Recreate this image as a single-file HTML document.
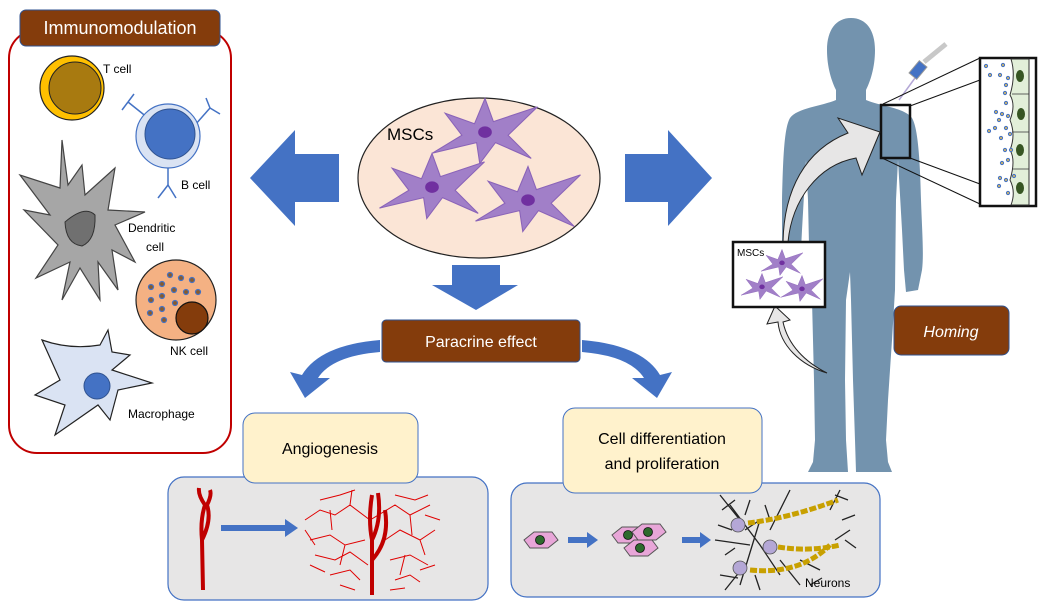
<!DOCTYPE html>
<html><head><meta charset="utf-8"><style>
html,body{margin:0;padding:0;background:#fff;}
svg{display:block;font-family:"Liberation Sans",sans-serif;}
</style></head><body>
<svg width="1042" height="604" viewBox="0 0 1042 604" xmlns="http://www.w3.org/2000/svg">
<defs>
<g id="msc">
<path d="M-50,22 L-22,5 L-38,-16 L-10,-6 L0,-30 L8,-8 L50,-22 L22,5 L44,27 L10,12 L-5,32 L-8,12 Z" fill="#a17fc8" stroke="#8a63b8" stroke-width="1"/>
<ellipse cx="0" cy="2" rx="6.5" ry="5.5" fill="#7030a0"/>
</g>
<g id="pcell"><path d="M-16,0 L-6,-8 L12,-8 L18,0 L8,8 L-10,8 Z" fill="#e8a6d8" stroke="#555" stroke-width="1"/><circle cx="0" cy="0" r="4.5" fill="#2d6a2d" stroke="#111" stroke-width="0.8"/></g>
</defs>

<!-- Human silhouette -->
<path fill="#7393ae" d="M851,18 C866,18 875,30 875,50 C875,68 870,82 866,90 L866,100 C880,106 905,108 912,118 C918,128 920,160 921,200 C922,230 924,255 922,270 L918,290 L906,292 L904,270 L902,230 L898,160 L896,200 L895,290 L892,340 L888,400 L886,440 L888,462 L892,472 L856,472 L855,440 L853,380 L851,300 L850,272 L846,300 L845,380 L846,440 L848,472 L808,472 L813,462 L815,440 L814,380 L812,300 L810,290 L808,200 L806,160 L802,230 L800,270 L796,292 L785,290 L782,270 L782,200 C783,160 784,128 790,118 C797,108 822,106 836,100 L836,90 C832,82 827,68 827,50 C827,30 836,18 851,18Z"/>

<!-- Immunomodulation panel -->
<rect x="9" y="30" width="222" height="423" rx="28" fill="#fff" stroke="#c00000" stroke-width="2"/>
<rect x="20" y="10" width="200" height="36" rx="6" fill="#843c0c" stroke="#2f528f" stroke-width="1"/>
<text x="120" y="34" font-size="18" fill="#fff" text-anchor="middle">Immunomodulation</text>

<circle cx="72" cy="88" r="32" fill="#ffc000" stroke="#222" stroke-width="1.2"/>
<circle cx="75" cy="88" r="26" fill="#a87a10" stroke="#222" stroke-width="1"/>
<text x="103" y="73" font-size="12">T cell</text>

<g stroke="#4472c4" stroke-width="1.5" fill="none">
<line x1="148" y1="118" x2="128" y2="102"/><line x1="128" y1="102" x2="122" y2="110"/><line x1="128" y1="102" x2="134" y2="94"/>
<line x1="195" y1="125" x2="210" y2="108"/><line x1="210" y1="108" x2="220" y2="114"/><line x1="210" y1="108" x2="206" y2="98"/>
<line x1="168" y1="165" x2="168" y2="185"/><line x1="168" y1="185" x2="158" y2="198"/><line x1="168" y1="185" x2="176" y2="198"/>
</g>
<circle cx="168" cy="136" r="32" fill="#dae3f3" stroke="#4472c4" stroke-width="1.2"/>
<circle cx="170" cy="134" r="25" fill="#4472c4" stroke="#2f528f" stroke-width="1"/>
<text x="181" y="189" font-size="12">B cell</text>

<path d="M62,140 L68,185 L82,165 L85,195 L115,168 L108,210 L145,212 L115,225 L135,262 L112,250 L118,290 L98,262 L100,300 L80,268 L62,300 L70,262 L36,278 L58,245 L24,210 L50,215 L20,175 L60,188 Z" fill="#a6a6a6" stroke="#444" stroke-width="1.2"/>
<path d="M65,222 Q85,205 95,215 Q96,240 82,246 Q66,244 65,222Z" fill="#707070" stroke="#333"/>
<text x="128" y="232" font-size="12">Dendritic</text>
<text x="146" y="251" font-size="12">cell</text>

<circle cx="176" cy="300" r="40" fill="#f4b183" stroke="#222" stroke-width="1.2"/>
<g fill="#8a5a2a" stroke="#4472c4" stroke-width="1.2">
<circle cx="170" cy="275" r="2.5"/><circle cx="181" cy="278" r="2.5"/><circle cx="192" cy="280" r="2.5"/><circle cx="151" cy="287" r="2.5"/><circle cx="162" cy="284" r="2.5"/><circle cx="174" cy="290" r="2.5"/><circle cx="186" cy="292" r="2.5"/><circle cx="198" cy="292" r="2.5"/><circle cx="151" cy="300" r="2.5"/><circle cx="162" cy="296" r="2.5"/><circle cx="175" cy="303" r="2.5"/><circle cx="162" cy="309" r="2.5"/><circle cx="150" cy="313" r="2.5"/><circle cx="164" cy="320" r="2.5"/>
</g>
<circle cx="192" cy="318" r="16" fill="#843c0c" stroke="#111" stroke-width="1.2"/>
<text x="170" y="355" font-size="12">NK cell</text>

<path d="M42,340 Q70,350 100,345 L108,330 L112,352 L130,355 L112,370 L152,383 L118,390 L110,420 L98,405 L55,435 L65,405 L35,395 L60,380 Z" fill="#dae3f3" stroke="#222" stroke-width="1.2"/>
<circle cx="97" cy="386" r="13" fill="#4472c4" stroke="#2f528f"/>
<text x="128" y="418" font-size="12">Macrophage</text>

<!-- arrows -->
<polygon points="250,178 295,130 295,154 339,154 339,202 295,202 295,226" fill="#4472c4"/>
<polygon points="712,178 668,130 668,154 625,154 625,202 668,202 668,226" fill="#4472c4"/>
<polygon points="452,265 500,265 500,285 518,285 476,310 432,285 452,285" fill="#4472c4"/>

<!-- MSCs ellipse -->
<ellipse cx="479" cy="178" rx="121" ry="80" fill="#fbe5d6" stroke="#222" stroke-width="1.2"/>
<text x="387" y="140" font-size="17">MSCs</text>
<use href="#msc" transform="translate(485,130) scale(1.05)"/>
<use href="#msc" transform="translate(432,185) scale(1.05)"/>
<use href="#msc" transform="translate(528,198) scale(1.05)"/>

<!-- Paracrine -->
<rect x="382" y="320" width="198" height="42" rx="4" fill="#843c0c" stroke="#2f528f"/>
<text x="481" y="347" font-size="16" fill="#fff" text-anchor="middle">Paracrine effect</text>
<path d="M380,340 Q320,345 302,375 L290,372 L305,398 L330,378 L318,378 Q332,356 380,352Z" fill="#4472c4"/>
<path d="M582,340 Q642,345 660,375 L672,372 L657,398 L632,378 L644,378 Q630,356 582,352Z" fill="#4472c4"/>

<!-- Angiogenesis -->
<rect x="168" y="477" width="320" height="123" rx="16" fill="#e7e6e6" stroke="#4472c4" stroke-width="1.2"/>
<rect x="243" y="413" width="175" height="70" rx="12" fill="#fff2cc" stroke="#4472c4"/>
<text x="330" y="454" font-size="16" text-anchor="middle">Angiogenesis</text>
<g stroke="#e00000" stroke-width="1" fill="none">
<path d="M305,520 L320,510 L335,515 L350,505 L370,520 L395,505 L410,515 L430,505 M310,540 L330,535 L345,545 L365,540 M385,540 L400,530 L420,540 L435,530 M315,555 L335,560 L350,552 L368,565 M390,560 L410,555 L428,565 M320,500 L340,495 L355,490 M395,495 L415,500 L428,495 M330,575 L350,570 L360,580 M395,580 L410,575 L420,582 M330,510 L332,530 M410,515 L412,535 M345,545 L340,565 M405,555 L400,575 M350,505 L352,490 M420,540 L425,555 M305,530 L315,545 M425,515 L440,520 M310,565 L325,572 M420,570 L435,565 M340,585 L355,590 M390,590 L405,588"/>
</g>
<g stroke="#c00000" stroke-width="4" fill="none">
<path d="M203,590 L202,540 Q200,520 205,505 Q198,495 199,488"/>
<path d="M202,540 Q212,520 207,505 Q212,495 210,490"/>
<path d="M372,595 L372,540 Q368,520 372,495"/>
<path d="M372,540 Q382,520 378,493"/>
<path d="M372,560 Q390,540 385,510"/>
</g>
<polygon points="221,525 285,525 285,519 298,528 285,537 285,531 221,531" fill="#4472c4"/>

<!-- Cell diff -->
<rect x="511" y="483" width="369" height="114" rx="16" fill="#e7e6e6" stroke="#4472c4" stroke-width="1.2"/>
<rect x="563" y="408" width="199" height="85" rx="12" fill="#fff2cc" stroke="#4472c4"/>
<text x="662" y="444" font-size="16" text-anchor="middle">Cell differentiation</text>
<text x="662" y="469" font-size="16" text-anchor="middle">and proliferation</text>
<use href="#pcell" transform="translate(540,540)"/>
<polygon points="568,537 587,537 587,532 598,540 587,548 587,543 568,543" fill="#4472c4"/>
<use href="#pcell" transform="translate(628,535)"/>
<use href="#pcell" transform="translate(648,532)"/>
<use href="#pcell" transform="translate(640,548)"/>
<polygon points="682,537 700,537 700,532 711,540 700,548 700,543 682,543" fill="#4472c4"/>
<g stroke="#222" stroke-width="1.3" fill="none">
<path d="M720,495 L740,520 M725,590 L745,565 M715,540 L750,545 M730,505 L760,545 L780,575 M760,520 L740,585 M790,490 L770,530 M780,560 L800,585 M840,490 L830,510 M850,530 L835,540 M800,560 L820,570 M722,510 L735,500 M718,525 L732,530 M725,555 L735,548 M720,575 L738,578 M750,500 L745,515 M765,505 L770,520 M755,575 L760,590 M745,530 L760,520 M835,495 L848,500 M842,520 L855,515 M845,540 L856,548 M810,585 L822,578"/>
</g>
<g fill="#b4a7d6" stroke="#555" stroke-width="0.8"><circle cx="738" cy="525" r="7"/><circle cx="770" cy="547" r="7"/><circle cx="740" cy="568" r="7"/></g>
<g stroke="#c8a000" stroke-width="5" fill="none" stroke-dasharray="7 2">
<path d="M748,523 Q790,518 838,500"/><path d="M778,547 Q810,552 840,545"/><path d="M750,570 Q800,575 830,545"/>
</g>
<text x="805" y="587" font-size="12">Neurons</text>

<!-- syringe -->
<line x1="899" y1="100" x2="915" y2="78" stroke="#b4a7d6" stroke-width="1.5"/>
<rect x="913" y="62" width="10" height="16" transform="rotate(40 918 70)" fill="#4472c4" stroke="#999"/>
<line x1="924" y1="62" x2="946" y2="44" stroke="#c8c8c8" stroke-width="5"/>

<rect x="881" y="105" width="29" height="53" fill="none" stroke="#111" stroke-width="2.5"/>
<line x1="883" y1="104" x2="980" y2="58" stroke="#111"/><line x1="910" y1="106" x2="980" y2="80" stroke="#111"/>
<line x1="910" y1="158" x2="980" y2="184" stroke="#111"/><line x1="882" y1="158" x2="980" y2="204" stroke="#111"/>
<rect x="980" y="58" width="56" height="148" fill="#fff" stroke="#111" stroke-width="2.5"/>
<path d="M1011,59 L1029,59 L1029,205 L1011,205 Q1016,192 1010,180 Q1016,160 1010,150 Q1016,135 1010,120 Q1016,105 1010,95 Q1016,75 1011,59Z" fill="#e2efd9" stroke="#333"/>
<line x1="1029" y1="59" x2="1029" y2="205" stroke="#333"/>
<g stroke="#333" stroke-width="0.8"><line x1="1012" y1="94" x2="1029" y2="94"/><line x1="1012" y1="132" x2="1029" y2="132"/><line x1="1012" y1="169" x2="1029" y2="169"/></g>
<g fill="#375623"><ellipse cx="1020" cy="76" rx="4" ry="6"/><ellipse cx="1021" cy="114" rx="4" ry="6"/><ellipse cx="1020" cy="150" rx="4" ry="6"/><ellipse cx="1020" cy="188" rx="4" ry="6"/></g>
<g fill="#c9b26b" stroke="#4472c4" stroke-width="1"><circle cx="986" cy="66" r="1.6"/><circle cx="1003" cy="65" r="1.6"/><circle cx="990" cy="75" r="1.6"/><circle cx="1000" cy="75" r="1.6"/><circle cx="1008" cy="78" r="1.6"/><circle cx="1006" cy="85" r="1.6"/><circle cx="1005" cy="93" r="1.6"/><circle cx="1006" cy="103" r="1.6"/><circle cx="996" cy="112" r="1.6"/><circle cx="1002" cy="114" r="1.6"/><circle cx="1008" cy="116" r="1.6"/><circle cx="999" cy="120" r="1.6"/><circle cx="989" cy="131" r="1.6"/><circle cx="995" cy="128" r="1.6"/><circle cx="1006" cy="128" r="1.6"/><circle cx="1010" cy="134" r="1.6"/><circle cx="1001" cy="138" r="1.6"/><circle cx="1005" cy="150" r="1.6"/><circle cx="1011" cy="150" r="1.6"/><circle cx="1002" cy="163" r="1.6"/><circle cx="1008" cy="160" r="1.6"/><circle cx="1000" cy="178" r="1.6"/><circle cx="1006" cy="180" r="1.6"/><circle cx="1014" cy="176" r="1.6"/><circle cx="1008" cy="193" r="1.6"/><circle cx="999" cy="186" r="1.6"/></g>

<!-- curved arrows -->
<path d="M783,242 C784,190 805,150 848,133 L838,118 L880,132 L862,175 L856,158 C818,165 792,200 788,242Z" fill="#e7e6e6" stroke="#222"/>
<path d="M827,373 C800,365 780,345 778,322 L767,324 L775,306 L790,320 L783,322 C788,345 805,362 827,373Z" fill="#e7e6e6" stroke="#222"/>

<rect x="733" y="242" width="92" height="65" fill="#fff" stroke="#111" stroke-width="2.5"/>
<text x="737" y="256" font-size="10">MSCs</text>
<use href="#msc" transform="translate(782,262) scale(0.42)"/>
<use href="#msc" transform="translate(762,286) scale(0.42)"/>
<use href="#msc" transform="translate(802,288) scale(0.42)"/>

<rect x="894" y="306" width="115" height="49" rx="7" fill="#843c0c" stroke="#2f528f"/>
<text x="951" y="337" font-size="16" font-style="italic" fill="#fff" text-anchor="middle">Homing</text>
</svg>
</body></html>
